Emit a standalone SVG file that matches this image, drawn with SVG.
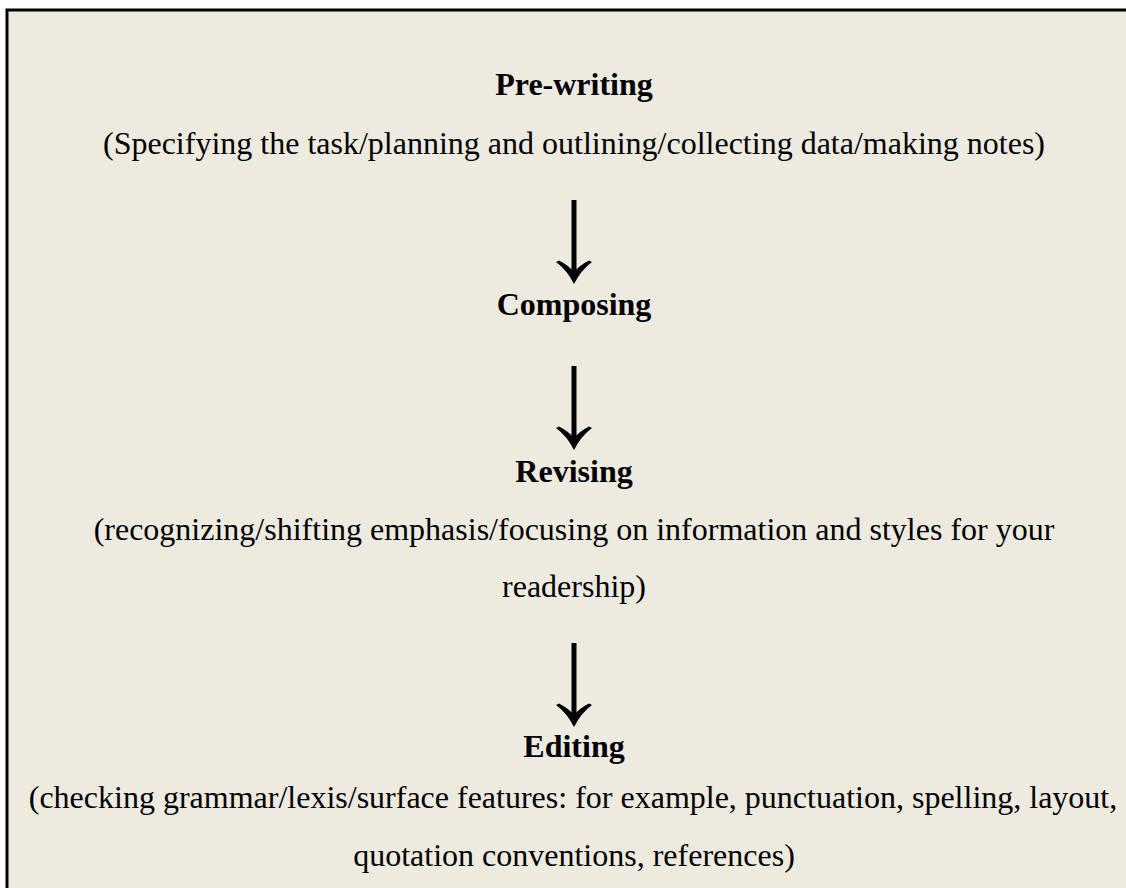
<svg xmlns="http://www.w3.org/2000/svg" width="1126" height="888" viewBox="0 0 1126 888">
<style>
.t{font-family:"Liberation Serif","Times New Roman",serif;font-size:32px;fill:#000;text-anchor:middle}
.b{font-weight:bold}
.shaft{stroke:#000;stroke-width:5;fill:none}
.head{fill:#000}
</style>
<defs>
<g id="arrow">
<line class="shaft" x1="0" y1="0" x2="0" y2="76"/>
<path class="head" d="M0 84 Q-7 70 -18 62 L-15 60.5 Q-6 65 0 72 Q6 65 15 60.5 L18 62 Q7 70 0 84 Z"/>
</g>
</defs>
<rect x="0" y="0" width="1126" height="888" fill="#fff"/>
<rect x="7" y="10" width="1119" height="878" fill="#EDEAE0"/>
<path d="M7 888 V10 H1126" fill="none" stroke="#000" stroke-width="3"/>
<g id="prewriting">
<text class="t b" x="574" y="95">Pre-writing</text>
<text class="t" x="574" y="154">(Specifying the task/planning and outlining/collecting data/making notes)</text>
</g>
<g id="composing">
<text class="t b" x="574" y="315">Composing</text>
</g>
<g id="revising">
<text class="t b" x="574" y="482">Revising</text>
<text class="t" x="574" y="540">(recognizing/shifting emphasis/focusing on information and styles for your</text>
<text class="t" x="574" y="597">readership)</text>
</g>
<g id="editing">
<text class="t b" x="574" y="757">Editing</text>
<text class="t" x="573" y="808">(checking grammar/lexis/surface features: for example, punctuation, spelling, layout,</text>
<text class="t" x="574" y="866">quotation conventions, references)</text>
</g>
<g id="connectors">
<use href="#arrow" x="574" y="200"/>
<use href="#arrow" x="574" y="366"/>
<use href="#arrow" x="574" y="643"/>
</g>
</svg>
